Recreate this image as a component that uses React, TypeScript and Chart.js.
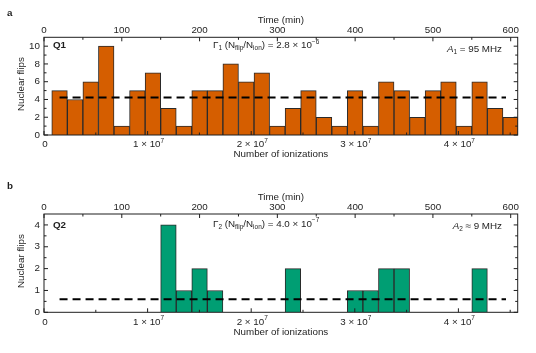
import React, { useEffect, useRef } from "react";
import { Chart, registerables } from "chart.js";

Chart.register(...registerables);

// ---------------- data ----------------
// histogram bin centres (time, minutes); each bin is 20 min wide
const BIN_CENTERS_MIN = [
  20, 40, 60, 80, 100, 120, 140, 160, 180, 200,
  220, 240, 260, 280, 300, 320, 340, 360, 380, 400,
  420, 440, 460, 480, 500, 520, 540, 560, 580, 600,
];
const Q1_FLIPS = [5, 4, 6, 10, 1, 5, 7, 3, 1, 5, 5, 8, 6, 7, 1, 3, 5, 2, 1, 5, 1, 6, 5, 2, 5, 6, 1, 6, 3, 2];
const Q2_FLIPS = [0, 0, 0, 0, 0, 0, 0, 4, 1, 2, 1, 0, 0, 0, 0, 2, 0, 0, 0, 1, 1, 2, 2, 0, 0, 0, 0, 2, 0, 0];
const Q1_MEAN = 4.23;
const Q2_MEAN = 0.6;
const MEAN_LINE_START_MIN = 20;
const MEAN_LINE_END_MIN = 594;

const TIME_MAX_MIN = 609;
const IONS_PER_MIN = 7.508e4;

const TIME_TICKS = [0, 100, 200, 300, 400, 500, 600];
const TIME_MINOR_TICKS = [50, 150, 250, 350, 450, 550];
const ION_TICKS = [0, 1e7, 2e7, 3e7, 4e7];
const ION_TICK_LABELS = ["0", "1", "2", "3", "4"];
const ION_MINOR_TICKS = [0.5e7, 1.5e7, 2.5e7, 3.5e7, 4.5e7];
const Q1_Y_TICKS = [0, 2, 4, 6, 8, 10];
const Q1_Y_MINOR = [1, 3, 5, 7, 9];
const Q2_Y_TICKS = [0, 1, 2, 3, 4];
const Q2_Y_MINOR = [0.5, 1.5, 2.5, 3.5];

// ---------------- style ----------------
const INK = "#1e1e1e";
const BAR_EDGE = "#2a2a2a";
const FONT = "'Liberation Sans', Arial, Helvetica, sans-serif";
const FS = 9.8;

type Seg = { t: string; k?: "n" | "sup" | "sub" | "it" | "b" };

function fontFor(k: Seg["k"], size: number) {
  if (k === "sup" || k === "sub") return `${(size * 0.66).toFixed(2)}px ${FONT}`;
  if (k === "it") return `italic ${size}px ${FONT}`;
  if (k === "b") return `bold ${size}px ${FONT}`;
  return `${size}px ${FONT}`;
}

function drawRich(
  ctx: CanvasRenderingContext2D,
  segs: Seg[],
  x: number,
  y: number,
  align: "left" | "center" | "right",
  size = FS
) {
  const widths = segs.map((s) => {
    ctx.font = fontFor(s.k, size);
    return ctx.measureText(s.t).width;
  });
  const total = widths.reduce((a, b) => a + b, 0);
  let cx = align === "left" ? x : align === "center" ? x - total / 2 : x - total;
  ctx.textAlign = "left";
  ctx.textBaseline = "middle";
  segs.forEach((s, i) => {
    ctx.font = fontFor(s.k, size);
    const dy = s.k === "sup" ? -size * 0.38 : s.k === "sub" ? size * 0.32 : 0;
    ctx.fillText(s.t, cx, y + dy);
    cx += widths[i];
  });
}

type PanelProps = {
  top: number;
  height: number;
  plotTop: number;
  plotBottom: number;
  values: number[];
  mean: number;
  color: string;
  yMax: number;
  yTicks: number[];
  yMinor: number[];
  letter: string;
  letterY: number;
  qLabel: string;
  qY: number;
  gammaSegs: Seg[];
  gammaY: number;
  aSegs: Seg[];
  aY: number;
};

const PLOT_LEFT = 44;
const PLOT_RIGHT = 517.7;
const W = 536;

function Panel(p: PanelProps) {
  const ref = useRef<HTMLCanvasElement>(null);
  useEffect(() => {
    const canvas = ref.current!;
    const axisPlugin = {
      id: "axes" + p.letter,
      afterDraw(chart: any) {
        const ctx: CanvasRenderingContext2D = chart.ctx;
        const a = chart.chartArea;
        const xs = chart.scales.x;
        const ys = chart.scales.y;
        const ionPx = (v: number) => xs.getPixelForValue(v / IONS_PER_MIN);
        ctx.save();
        ctx.strokeStyle = INK;
        ctx.fillStyle = INK;
        ctx.lineWidth = 1;
        ctx.strokeRect(a.left, a.top, a.right - a.left, a.bottom - a.top);
        const MAJ = 4;
        const MIN = 2.5;
        ctx.beginPath();
        // top (time) ticks
        TIME_TICKS.forEach((t) => {
          const x = xs.getPixelForValue(t);
          ctx.moveTo(x, a.top);
          ctx.lineTo(x, a.top + MAJ);
        });
        TIME_MINOR_TICKS.forEach((t) => {
          const x = xs.getPixelForValue(t);
          ctx.moveTo(x, a.top);
          ctx.lineTo(x, a.top + MIN);
        });
        // bottom (ionization) ticks
        ION_TICKS.forEach((v) => {
          const x = ionPx(v);
          ctx.moveTo(x, a.bottom);
          ctx.lineTo(x, a.bottom - MAJ);
        });
        ION_MINOR_TICKS.forEach((v) => {
          const x = ionPx(v);
          ctx.moveTo(x, a.bottom);
          ctx.lineTo(x, a.bottom - MIN);
        });
        // left/right ticks
        p.yTicks.forEach((v) => {
          const y = ys.getPixelForValue(v);
          ctx.moveTo(a.left, y);
          ctx.lineTo(a.left + MAJ, y);
          ctx.moveTo(a.right, y);
          ctx.lineTo(a.right - MAJ, y);
        });
        p.yMinor.forEach((v) => {
          const y = ys.getPixelForValue(v);
          ctx.moveTo(a.left, y);
          ctx.lineTo(a.left + MIN, y);
          ctx.moveTo(a.right, y);
          ctx.lineTo(a.right - MIN, y);
        });
        ctx.stroke();

        // labels
        TIME_TICKS.forEach((t) => {
          drawRich(ctx, [{ t: String(t) }], xs.getPixelForValue(t), a.top - 6.6, "center");
        });
        drawRich(ctx, [{ t: "Time (min)" }], (a.left + a.right) / 2, a.top - 16.8, "center");
        ION_TICKS.forEach((v, i) => {
          const segs: Seg[] = i === 0 ? [{ t: "0" }] : [{ t: ION_TICK_LABELS[i] + " \u00d7 10" }, { t: "7", k: "sup" }];
          drawRich(ctx, segs, ionPx(v) + 1, a.bottom + 9.5, "center");
        });
        drawRich(ctx, [{ t: "Number of ionizations" }], (a.left + a.right) / 2, a.bottom + 19.7, "center");
        p.yTicks.forEach((v) => {
          drawRich(ctx, [{ t: String(v) }], a.left - 4, ys.getPixelForValue(v), "right");
        });
        ctx.save();
        ctx.translate(21.5, (a.top + a.bottom) / 2 - 2);
        ctx.rotate(-Math.PI / 2);
        drawRich(ctx, [{ t: "Nuclear flips" }], 0, 0, "center");
        ctx.restore();

        drawRich(ctx, [{ t: p.letter, k: "b" }], 7, p.letterY, "left");
        drawRich(ctx, [{ t: p.qLabel, k: "b" }], 53, p.qY, "left");
        drawRich(ctx, p.gammaSegs, 213, p.gammaY, "left");
        drawRich(ctx, p.aSegs, 502, p.aY, "right");
        ctx.restore();
      },
    };

    const chart = new Chart(canvas, {
      type: "bar",
      data: {
        datasets: [
          {
            type: "line",
            data: [
              { x: MEAN_LINE_START_MIN, y: p.mean },
              { x: MEAN_LINE_END_MIN, y: p.mean },
            ],
            borderColor: "#000",
            borderWidth: 2,
            borderDash: [8, 5],
            pointRadius: 0,
            fill: false,
            order: 0,
          } as any,
          {
            type: "bar",
            data: BIN_CENTERS_MIN.map((x, i) => ({ x, y: p.values[i] })),
            backgroundColor: p.color,
            borderColor: BAR_EDGE,
            borderWidth: 1,
            barPercentage: 1,
            categoryPercentage: 1,
            order: 1,
          } as any,
        ],
      },
      options: {
        responsive: false,
        animation: false,
        devicePixelRatio: 1,
        events: [],
        layout: {
          padding: {
            left: PLOT_LEFT,
            right: W - PLOT_RIGHT,
            top: p.plotTop,
            bottom: p.height - p.plotBottom,
          },
        },
        plugins: { legend: { display: false }, tooltip: { enabled: false } },
        scales: {
          x: { type: "linear", min: 0, max: TIME_MAX_MIN, display: false, offset: false },
          y: { type: "linear", min: 0, max: p.yMax, display: false },
        },
      } as any,
      plugins: [axisPlugin],
    });
    return () => chart.destroy();
  }, []);
  return (
    <canvas
      ref={ref}
      width={W}
      height={p.height}
      style={{ position: "absolute", left: 0, top: p.top, width: W, height: p.height, display: "block" }}
    />
  );
}

export default function App() {
  return (
    <div style={{ position: "fixed", left: 0, top: 0, width: 536, height: 353, background: "#fff", overflow: "hidden" }}>
      <Panel
        top={0}
        height={176}
        plotTop={37.3}
        plotBottom={135}
        values={Q1_FLIPS}
        mean={Q1_MEAN}
        color="#D55E00"
        yMax={11}
        yTicks={Q1_Y_TICKS}
        yMinor={Q1_Y_MINOR}
        letter="a"
        letterY={13}
        qLabel="Q1"
        qY={45.5}
        gammaSegs={[
          { t: "\u0393" },
          { t: "1", k: "sub" },
          { t: " (N" },
          { t: "flip", k: "sub" },
          { t: "/N" },
          { t: "ion", k: "sub" },
          { t: ") = 2.8 \u00d7 10" },
          { t: "\u22126", k: "sup" },
        ]}
        gammaY={45.5}
        aSegs={[{ t: "A", k: "it" }, { t: "1", k: "sub" }, { t: " = 95 MHz" }]}
        aY={49}
      />
      <Panel
        top={176}
        height={177}
        plotTop={38}
        plotBottom={136.3}
        values={Q2_FLIPS}
        mean={Q2_MEAN}
        color="#009E73"
        yMax={4.5}
        yTicks={Q2_Y_TICKS}
        yMinor={Q2_Y_MINOR}
        letter="b"
        letterY={10.7}
        qLabel="Q2"
        qY={49}
        gammaSegs={[
          { t: "\u0393" },
          { t: "2", k: "sub" },
          { t: " (N" },
          { t: "flip", k: "sub" },
          { t: "/N" },
          { t: "ion", k: "sub" },
          { t: ") = 4.0 \u00d7 10" },
          { t: "\u22127", k: "sup" },
        ]}
        gammaY={48}
        aSegs={[{ t: "A", k: "it" }, { t: "2", k: "sub" }, { t: " \u2248 9 MHz" }]}
        aY={50}
      />
    </div>
  );
}
